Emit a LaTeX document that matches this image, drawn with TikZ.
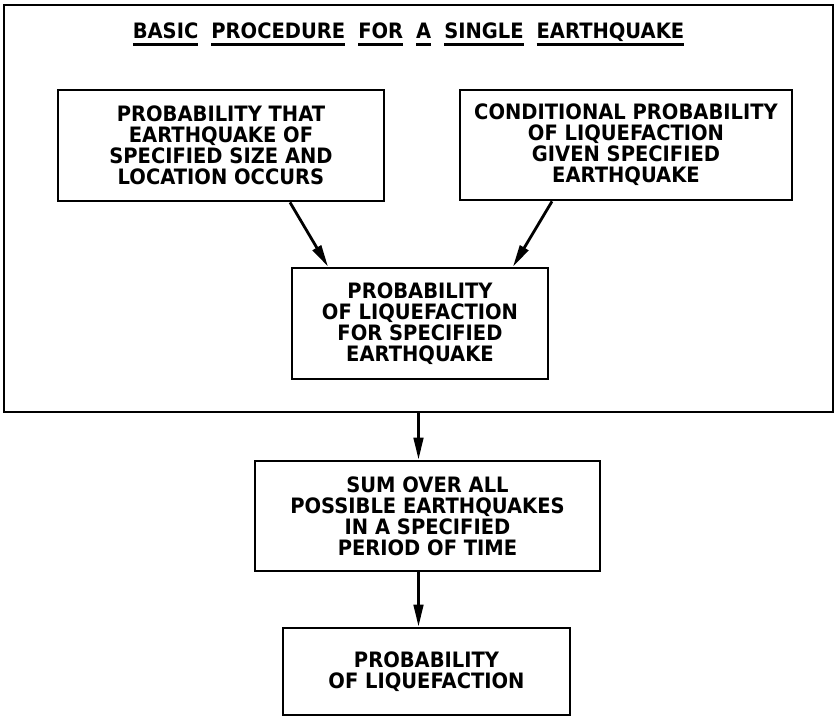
\documentclass[tikz,border=0pt]{standalone}
\usepackage{fontspec}
\setmainfont{DejaVu Sans}
\newfontfamily\letterfont{DejaVu Sans}[FakeStretch=0.92]
\usetikzlibrary{calc,arrows.meta}

% lettering used in all boxes
\newcommand{\boxfont}{\letterfont\fontsize{10.6pt}{10.5pt}\selectfont\bfseries}
% one underlined word of the heading
\newcommand{\wordline}[1]{\setbox0\hbox{#1}\rlap{\rule[-3.4pt]{\wd0}{1.5pt}}\box0}

\begin{document}
\begin{tikzpicture}[
  x=0.5pt, y=-0.5pt,
  box/.style={rectangle,draw,line width=1.4pt,inner sep=0pt,align=center,font=\boxfont},
  frame/.style={rectangle,draw,line width=1.3pt,inner sep=0pt},
  flow/.style={line width=1.4pt,-{Triangle[length=11pt,width=4.8pt]}}
  ]
\useasboundingbox (0,0) rectangle (836,716);
\def\gap{\hspace{6.5pt}}
\node[frame,minimum width=414.5pt,minimum height=203.5pt] (single) at (418.5,208.5) {};   % one earthquake
\node[font=\boxfont,anchor=base] (head) at (408.5,39)
  {\wordline{BASIC}\gap\wordline{PROCEDURE}\gap\wordline{FOR}\gap\wordline{A}\gap\wordline{SINGLE}\gap\wordline{EARTHQUAKE}};
\node[box,minimum width=163pt,minimum height=55.5pt] (occur) at (221,145.5)
  {PROBABILITY THAT\\EARTHQUAKE OF\\SPECIFIED SIZE AND\\LOCATION OCCURS};
\node[box,minimum width=166pt,minimum height=55pt] (cond) at (626,145)
  {CONDITIONAL PROBABILITY\\OF LIQUEFACTION\\GIVEN SPECIFIED\\EARTHQUAKE};
\node[box,minimum width=128pt,minimum height=55.5pt] (pliq) at (420,323.5)
  {PROBABILITY\\OF LIQUEFACTION\\FOR SPECIFIED\\EARTHQUAKE};
\node[box,minimum width=172.5pt,minimum height=55pt] (sum) at (427.5,516)
  {SUM OVER ALL\\POSSIBLE EARTHQUAKES\\IN A SPECIFIED\\PERIOD OF TIME};
\node[box,minimum width=143.5pt,minimum height=43.5pt] (liq) at (426.5,671.5)
  {PROBABILITY\\OF LIQUEFACTION};
\draw[flow] ([xshift=34.5pt]occur.south) -- ([xshift=-46pt]pliq.north);
\draw[flow] ([xshift=-37pt]cond.south) -- ([xshift=46.5pt]pliq.north);
\draw[flow] (single.south) -- (single.south |- sum.north);
\draw[flow] (sum.south -| single.south) -- (liq.north -| single.south);
\end{tikzpicture}
\end{document}
